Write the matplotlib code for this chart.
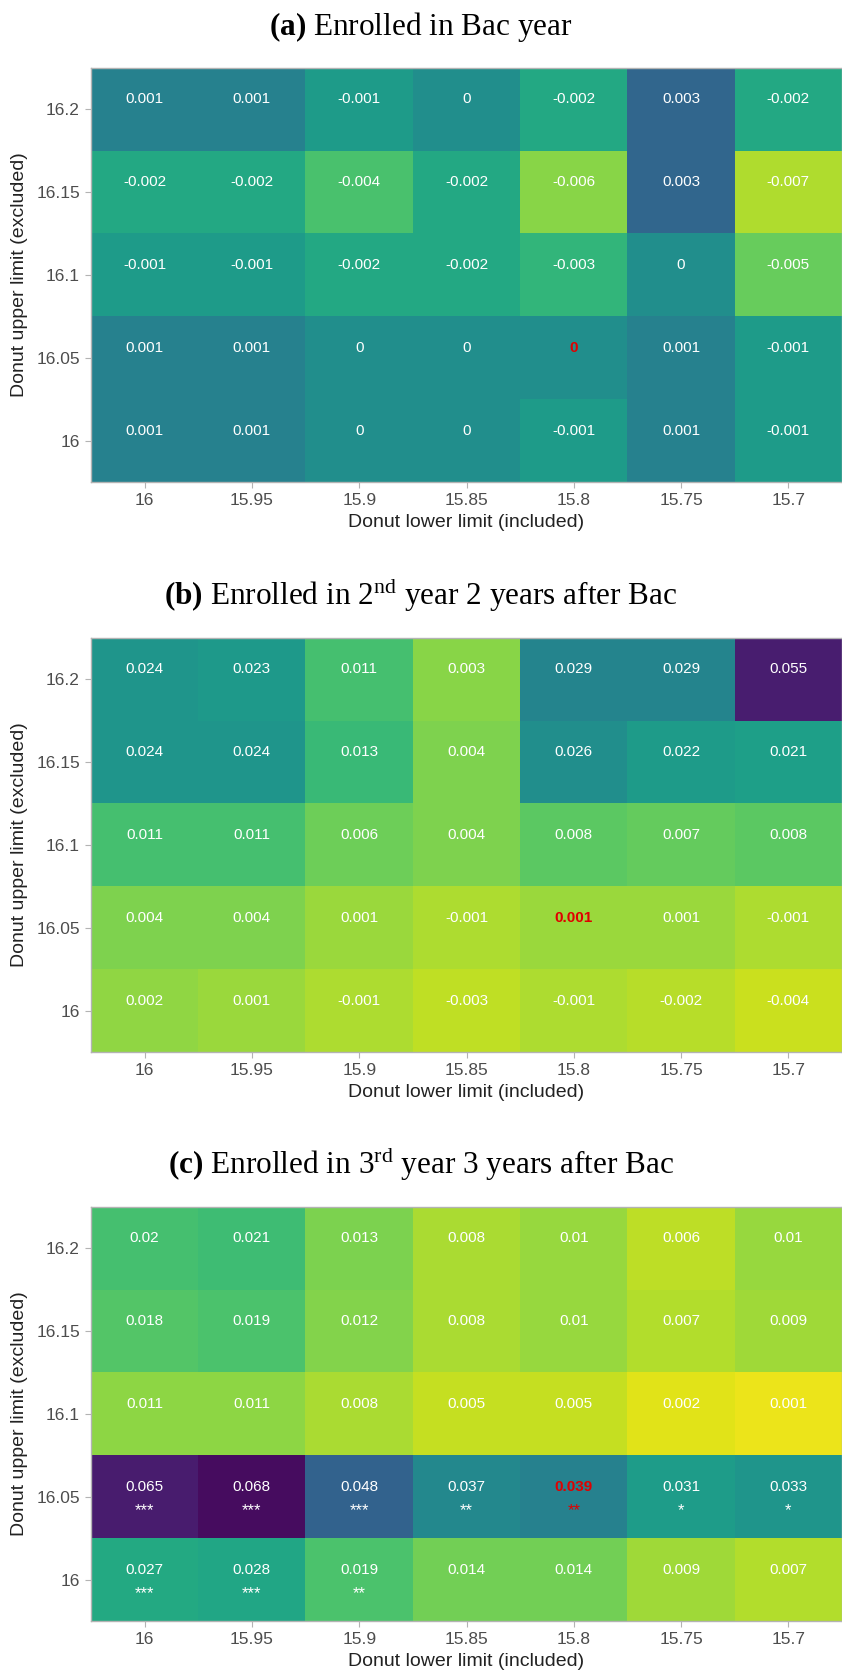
import numpy as np
import matplotlib
matplotlib.use("Agg")
import matplotlib.pyplot as plt
from matplotlib.colors import Normalize

plt.rcParams['font.family'] = ['Liberation Sans', 'DejaVu Sans']
plt.rcParams['mathtext.fontset'] = 'custom'
plt.rcParams['mathtext.rm'] = 'Liberation Serif'
plt.rcParams['mathtext.bf'] = 'Liberation Serif:bold'

lower = ["16", "15.95", "15.9", "15.85", "15.8", "15.75", "15.7"]
upper = ["16.2", "16.15", "16.1", "16.05", "16"]   # top to bottom

# (a) Enrolled in Bac year
est_a = [[0.001, 0.001, -0.001, 0, -0.002, 0.003, -0.002],
         [-0.002, -0.002, -0.004, -0.002, -0.006, 0.003, -0.007],
         [-0.001, -0.001, -0.002, -0.002, -0.003, 0, -0.005],
         [0.001, 0.001, 0, 0, 0, 0.001, -0.001],
         [0.001, 0.001, 0, 0, -0.001, 0.001, -0.001]]
# (b) Enrolled in 2nd year 2 years after Bac
est_b = [[0.024, 0.023, 0.011, 0.003, 0.029, 0.029, 0.055],
         [0.024, 0.024, 0.013, 0.004, 0.026, 0.022, 0.021],
         [0.011, 0.011, 0.006, 0.004, 0.008, 0.007, 0.008],
         [0.004, 0.004, 0.001, -0.001, 0.001, 0.001, -0.001],
         [0.002, 0.001, -0.001, -0.003, -0.001, -0.002, -0.004]]
# (c) Enrolled in 3rd year 3 years after Bac
est_c = [[0.02, 0.021, 0.013, 0.008, 0.01, 0.006, 0.01],
         [0.018, 0.019, 0.012, 0.008, 0.01, 0.007, 0.009],
         [0.011, 0.011, 0.008, 0.005, 0.005, 0.002, 0.001],
         [0.065, 0.068, 0.048, 0.037, 0.039, 0.031, 0.033],
         [0.027, 0.028, 0.019, 0.014, 0.014, 0.009, 0.007]]
stars_c = [[""] * 7,
           [""] * 7,
           [""] * 7,
           ["***", "***", "***", "**", "**", "*", "*"],
           ["***", "***", "**", "", "", "", ""]]
no_stars = [[""] * 7 for _ in range(5)]

# colour scale limits per panel
lims = [(-0.0092, 0.0090), (-0.0096, 0.0606), (-0.0012, 0.0705)]
titles = [r"$\mathbf{(a)}$ Enrolled in Bac year",
          r"$\mathbf{(b)}$ Enrolled in 2$^{\mathrm{nd}}$ year 2 years after Bac",
          r"$\mathbf{(c)}$ Enrolled in 3$^{\mathrm{rd}}$ year 3 years after Bac"]
highlight = (3, 4)  # row 16.05, col 15.8


def fmt(v):
    s = f"{v:.3f}".rstrip('0').rstrip('.')
    return "0" if s in ("-0", "") else s


W, H = 842, 1673
fig = plt.figure(figsize=(W / 100, H / 100), dpi=100)

tops = [68, 638, 1207]
ph = 414
left = 91
panels = [(est_a, no_stars), (est_b, no_stars), (est_c, stars_c)]

for k, (est, st) in enumerate(panels):
    top = tops[k]
    ax = fig.add_axes([left / W, 1 - (top + ph) / H, (W - left) / W, ph / H])
    vals = np.array(est)
    ax.imshow(vals, cmap='viridis_r', norm=Normalize(*lims[k]), aspect='auto',
              interpolation='nearest')
    for i in range(5):
        for j in range(7):
            hl = (i, j) == highlight
            col = '#e00000' if hl else 'white'
            ax.text(j, i - 0.12, fmt(vals[i, j]), ha='center', va='center',
                    color=col, fontsize=11, fontweight='bold' if hl else 'normal')
            if st[i][j]:
                ax.text(j, i + 0.17, st[i][j], ha='center', va='center',
                        color=col, fontsize=12)
    ax.set_xticks(range(7))
    ax.set_xticklabels(lower)
    ax.set_yticks(range(5))
    ax.set_yticklabels(upper)
    ax.tick_params(colors='#b3b3b3', labelcolor='#4d4d4d', labelsize=12.5,
                   length=4, width=0.8, pad=4)
    for s in ax.spines.values():
        s.set_color('#b3b3b3')
        s.set_linewidth(1.0)
    ax.set_xlabel("Donut lower limit (included)", fontsize=14, color='#222222',
                  labelpad=4)
    ax.set_ylabel("Donut upper limit (excluded)", fontsize=14, color='#222222',
                  labelpad=6)
    fig.text(0.5, 1 - (top - 33) / H, titles[k], ha='center', va='baseline',
             fontsize=22.5, family='Liberation Serif')

fig.savefig("out.png", dpi=100)
